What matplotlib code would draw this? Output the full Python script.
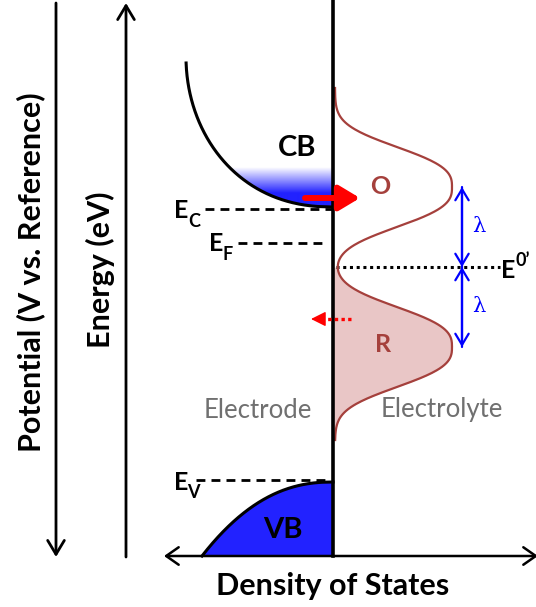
import numpy as np
import matplotlib.pyplot as plt
from matplotlib.colors import LinearSegmentedColormap

plt.rcParams['font.family'] = ['Lato', 'DejaVu Sans']

# energy levels (arbitrary units, E0' = 0)
E0 = 0.0
lam = 0.80
E_C = 0.58
E_F = 0.24
E_V = -2.15
E_cb_edge = 0.60      # bottom of conduction band DOS
E_cb_top = 2.04
E_bottom = -2.89      # level of the DOS axis
E_fill = (0.74, 1.00)  # occupied part of CB: fully blue below, fades out above

# DOS shape parameters
cb_width, cb_height, cb_power = 1.47, 1.50, 0.45
vb_width, vb_depth, vb_power = 1.31, 0.74, 0.44
redox_amp = 1.17
redox_width = 0.47
redox_power = 2.8
redox_range = (-1.73, 1.79)

brown = '#a5403c'
blue = '#2222ff'
gray = '#707070'

fig = plt.figure(figsize=(5.36, 6.07), dpi=100)
ax = fig.add_axes([0, 0, 1, 1])
ax.set_xlim(-3.33, 2.03)
ax.set_ylim(-3.40, 2.67)
ax.axis('off')


def cb_dos(e):
    h = (e - E_cb_edge) / cb_height
    return -cb_width * np.clip(1 - (1 - h) ** 2, 0, None) ** cb_power


# conduction band
e_cb = np.linspace(E_cb_edge, E_cb_top, 300)
e_occ = np.linspace(E_cb_edge, E_fill[1], 150)
poly = ax.fill_betweenx(e_occ, cb_dos(e_occ), 0, color='none', lw=0)
cmap = LinearSegmentedColormap.from_list('cbfill', ['white', blue])
ee = np.linspace(E_cb_edge, E_fill[1], 200).reshape(-1, 1)
grad = np.clip((E_fill[1] - ee) / (E_fill[1] - E_fill[0]), 0, 1)
img = ax.imshow(grad, cmap=cmap, aspect='auto', vmin=0, vmax=1,
                extent=(-1.6, 0, E_cb_edge, E_fill[1]), origin='lower', zorder=1)
img.set_clip_path(poly.get_paths()[0], transform=ax.transData)
ax.plot(cb_dos(e_cb), e_cb, color='black', lw=2.2, zorder=3)

# valence band
e_vb = np.linspace(E_bottom, E_V, 300)
x_vb = -vb_width * ((E_V - e_vb) / vb_depth) ** vb_power
ax.fill_betweenx(e_vb, x_vb, 0, color=blue, lw=0, zorder=1)
ax.plot(x_vb, e_vb, color='black', lw=2.2, zorder=3)

# redox couple distributions (O above, R below E0')
e_rd = np.linspace(redox_range[0], redox_range[1], 400)
g_ox = redox_amp * np.exp(-(np.abs(e_rd - (E0 + lam)) / redox_width) ** redox_power)
g_red = redox_amp * np.exp(-(np.abs(e_rd - (E0 - lam)) / redox_width) ** redox_power)
x_rd = 0.02 + g_ox + g_red
low = e_rd <= E0
ax.fill_betweenx(e_rd[low], 0, x_rd[low], color='#e9c6c6', lw=0, zorder=1)
ax.plot(x_rd, e_rd, color=brown, lw=1.6, zorder=3)

# energy level markers
dash = (0, (3.2, 2.2))
ax.plot([-1.28, 0], [E_C, E_C], color='black', lw=2, ls=dash, zorder=2)
ax.plot([-0.95, -0.05], [E_F, E_F], color='black', lw=2, ls=dash, zorder=2)
ax.plot([-1.37, -0.08], [E_V + 0.02, E_V + 0.02], color='black', lw=2, ls=dash, zorder=2)
ax.plot([0.03, 1.67], [E0, E0], color='black', lw=2.2, ls=(0, (1, 1.2)), zorder=2)

big = 18
sub = 13
ax.text(-1.515, E_C - 0.02, 'E', fontsize=big, fontweight='bold', ha='center', va='center')
ax.text(-1.39, E_C - 0.125, 'C', fontsize=sub, fontweight='bold', ha='center', va='center')
ax.text(-1.17, E_F - 0.005, 'E', fontsize=big, fontweight='bold', ha='center', va='center')
ax.text(-1.055, E_F - 0.115, 'F', fontsize=sub, fontweight='bold', ha='center', va='center')
ax.text(-1.52, E_V - 0.005, 'E', fontsize=big, fontweight='bold', ha='center', va='center')
ax.text(-1.395, E_V - 0.105, 'V', fontsize=sub, fontweight='bold', ha='center', va='center')
ax.text(1.755, E0 - 0.03, 'E', fontsize=big, fontweight='bold', ha='center', va='center')
ax.text(1.895, E0 + 0.06, '0\u2019', fontsize=sub, fontweight='bold', ha='center', va='center')

# reorganisation energy arrows
for a, b in [(E0 + lam, E0), (E0 - lam, E0)]:
    for tip, tail in [(a, b), (b, a)]:
        ax.annotate('', xy=(1.29, tip), xytext=(1.29, tail),
                    arrowprops=dict(arrowstyle='->,head_length=0.5,head_width=0.3',
                                    color='blue', lw=1.6, mutation_scale=16,
                                    shrinkA=0, shrinkB=0))
    ax.text(1.46, (a + b) / 2, '\u03bb', fontsize=15, color='blue',
            family='DejaVu Serif', ha='center', va='center')

# electron transfer arrows
ax.annotate('', xy=(0.27, 0.69), xytext=(-0.28, 0.69),
            arrowprops=dict(arrowstyle='-|>,head_length=0.5,head_width=0.3', color='red',
                            lw=4.3, mutation_scale=25, shrinkA=0, shrinkB=0), zorder=5)
ax.plot([-0.12, 0.19], [-0.52, -0.52], color='red', lw=2.4, ls=(0, (1, 1)), zorder=5)
ax.annotate('', xy=(-0.22, -0.52), xytext=(-0.10, -0.52),
            arrowprops=dict(arrowstyle='-|>,head_length=0.5,head_width=0.25', color='red',
                            lw=1, mutation_scale=18, shrinkA=0, shrinkB=0), zorder=5)

# interface and DOS axis
ax.plot([0, 0], [E_bottom, 2.67], color='black', lw=2.6, zorder=4)
ax.annotate('', xy=(-1.69, E_bottom), xytext=(2.05, E_bottom),
            arrowprops=dict(arrowstyle='<->,head_length=0.5,head_width=0.35', color='black',
                            lw=1.8, mutation_scale=18, shrinkA=0, shrinkB=0))

# potential and energy axes
ax.annotate('', xy=(-2.77, -2.90), xytext=(-2.77, 2.64),
            arrowprops=dict(arrowstyle='->,head_length=0.5,head_width=0.3', color='black',
                            lw=2, mutation_scale=20, shrinkA=0, shrinkB=0))
ax.annotate('', xy=(-2.07, 2.64), xytext=(-2.07, -2.90),
            arrowprops=dict(arrowstyle='->,head_length=0.5,head_width=0.3', color='black',
                            lw=2, mutation_scale=20, shrinkA=0, shrinkB=0))

ax.text(-3.02, -0.05, 'Potential (V vs. Reference)', fontsize=22, fontweight='bold',
        rotation=90, ha='center', va='center')
ax.text(-2.33, -0.03, 'Energy (eV)', fontsize=22, fontweight='bold',
        rotation=90, ha='center', va='center')

ax.text(-0.36, 1.19, 'CB', fontsize=21, fontweight='bold', ha='center', va='center')
ax.text(-0.50, -2.63, 'VB', fontsize=21, fontweight='bold', ha='center', va='center')
ax.text(0.47, 0.80, 'O', fontsize=18, fontweight='bold', color=brown, ha='center', va='center')
ax.text(0.50, -0.77, 'R', fontsize=18, fontweight='bold', color=brown, ha='center', va='center')
ax.text(-0.75, -1.43, 'Electrode', fontsize=18.5, color=gray, ha='center', va='center')
ax.text(1.09, -1.43, 'Electrolyte', fontsize=18.5, color=gray, ha='center', va='center')
ax.text(0, -3.19, 'Density of States', fontsize=22, fontweight='bold', ha='center', va='center')

fig.savefig('out.png', dpi=100)
